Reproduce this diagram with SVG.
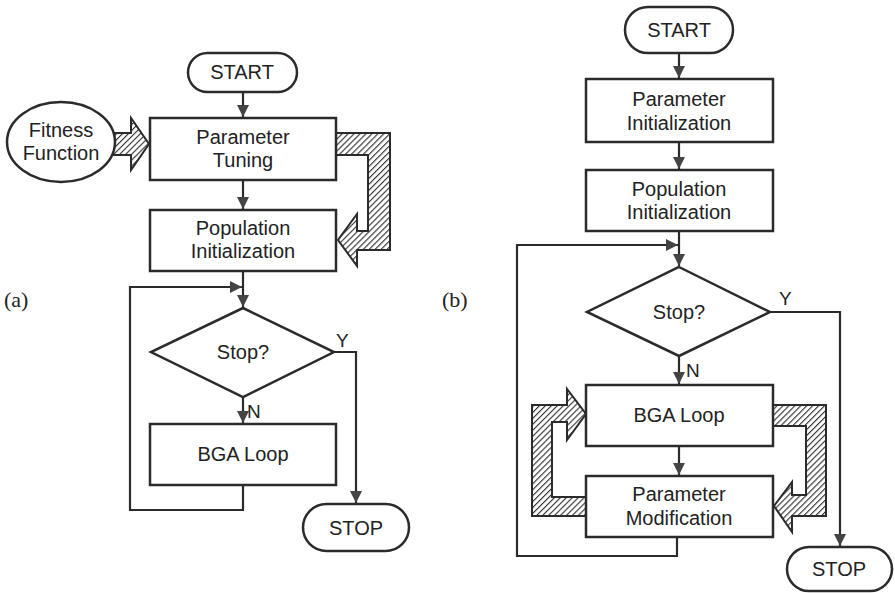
<svg xmlns="http://www.w3.org/2000/svg" width="895" height="593" viewBox="0 0 895 593">
  <defs>
    <style>
      .box { fill: #fff; stroke: #2b2b2b; stroke-width: 2.5; }
      .wire { fill: none; stroke: #2b2b2b; stroke-width: 2.2; }
      .hatch { fill: url(#diag); stroke: #2b2b2b; stroke-width: 2; stroke-linejoin: miter; }
      .t { font-family: "Liberation Sans", Arial, sans-serif; font-size: 20px; fill: #222; text-anchor: middle; }
      .lbl { font-family: "Liberation Sans", Arial, sans-serif; font-size: 19px; fill: #222; }
      .cap { font-family: "Liberation Serif", "DejaVu Serif", serif; font-size: 22px; fill: #222; }
    </style>
    <pattern id="diag" width="4.2" height="4.2" patternUnits="userSpaceOnUse" patternTransform="rotate(45)">
      <rect width="4.2" height="4.2" fill="#fff"/>
      <line x1="0" y1="0" x2="0" y2="4.2" stroke="#2e2e2e" stroke-width="2.2"/>
    </pattern>
    <marker id="ah" markerUnits="userSpaceOnUse" markerWidth="14" markerHeight="12" refX="12" refY="6" orient="auto">
      <path d="M0,0 L12,6 L0,12 Z" fill="#444"/>
    </marker>
  </defs>

  <!-- panel labels -->
  <text class="cap" x="4" y="307">(a)</text>
  <text class="cap" x="442" y="307">(b)</text>

  <!-- connectors -->
  <g id="connectors">
    <!-- flow (a) -->
    <path class="wire" d="M243,92 V117" marker-end="url(#ah)"/>
    <path class="wire" d="M243,180 V209" marker-end="url(#ah)"/>
    <path class="wire" d="M243,271 V307" marker-end="url(#ah)"/>
    <path class="wire" d="M243,485 V510 H130 V287 H242" marker-end="url(#ah)"/>
    <path class="wire" d="M243,397 V423" marker-end="url(#ah)"/>
    <path class="wire" d="M334,352 H356 V503" marker-end="url(#ah)"/>
    <!-- flow (b) -->
    <path class="wire" d="M679,53 V78" marker-end="url(#ah)"/>
    <path class="wire" d="M679,142 V169" marker-end="url(#ah)"/>
    <path class="wire" d="M679,231 V266" marker-end="url(#ah)"/>
    <path class="wire" d="M677,537 V556 H517 V245 H678" marker-end="url(#ah)"/>
    <path class="wire" d="M679,356 V384" marker-end="url(#ah)"/>
    <path class="wire" d="M679,446 V475" marker-end="url(#ah)"/>
    <path class="wire" d="M770,312 H840 V546" marker-end="url(#ah)"/>

    <!-- hatched feedback arrows -->
    <polygon class="hatch" points="108,133 131,133 131,118 149,144 131,170 131,155 108,155"/>
    <polygon class="hatch" points="336,133 390,133 390,250 357,250 357,266 338,240 357,214 357,231 368,231 368,155 336,155"/>
    <polygon class="hatch" points="586,497 552,497 552,422 567,422 567,440 586,414 567,389 567,405 532,405 532,516 586,516"/>
    <polygon class="hatch" points="773,405 826,405 826,516 792,516 792,532 774,506 792,482 792,495 806,495 806,426 773,426"/>

    <text class="lbl" x="336" y="347">Y</text>
    <text class="lbl" x="247" y="418">N</text>
    <text class="lbl" x="779" y="305">Y</text>
    <text class="lbl" x="686" y="377">N</text>
  </g>

  <!-- nodes (a) -->
  <g id="a-start">
    <rect class="box" x="188" y="53" width="109" height="39" rx="19.5"/>
    <text class="t" x="242" y="79">START</text>
  </g>
  <g id="a-fitness">
    <ellipse class="box" cx="61" cy="142" rx="54" ry="40"/>
    <text class="t" x="61" y="137">Fitness</text>
    <text class="t" x="61" y="160">Function</text>
  </g>
  <g id="a-tuning">
    <rect class="box" x="150" y="118" width="186" height="62"/>
    <text class="t" x="243" y="144">Parameter</text>
    <text class="t" x="243" y="167">Tuning</text>
  </g>
  <g id="a-popinit">
    <rect class="box" x="150" y="210" width="186" height="61"/>
    <text class="t" x="243" y="235">Population</text>
    <text class="t" x="243" y="258">Initialization</text>
  </g>
  <g id="a-stop">
    <polygon class="box" points="243,308 334,352 243,397 151,352"/>
    <text class="t" x="243" y="359">Stop?</text>
  </g>
  <g id="a-bga">
    <rect class="box" x="150" y="424" width="186" height="61"/>
    <text class="t" x="243" y="461">BGA Loop</text>
  </g>
  <g id="a-end">
    <rect class="box" x="303" y="504" width="106" height="47" rx="23.5"/>
    <text class="t" x="356" y="535">STOP</text>
  </g>

  <!-- nodes (b) -->
  <g id="b-start">
    <rect class="box" x="625" y="7" width="108" height="46" rx="23"/>
    <text class="t" x="679" y="37">START</text>
  </g>
  <g id="b-paraminit">
    <rect class="box" x="586" y="79" width="187" height="63"/>
    <text class="t" x="679" y="106">Parameter</text>
    <text class="t" x="679" y="130">Initialization</text>
  </g>
  <g id="b-popinit">
    <rect class="box" x="586" y="170" width="187" height="61"/>
    <text class="t" x="679" y="196">Population</text>
    <text class="t" x="679" y="219">Initialization</text>
  </g>
  <g id="b-stop">
    <polygon class="box" points="679,267 770,312 679,356 587,312"/>
    <text class="t" x="679" y="319">Stop?</text>
  </g>
  <g id="b-bga">
    <rect class="box" x="586" y="385" width="187" height="61"/>
    <text class="t" x="679" y="422">BGA Loop</text>
  </g>
  <g id="b-parammod">
    <rect class="box" x="586" y="476" width="187" height="61"/>
    <text class="t" x="679" y="501">Parameter</text>
    <text class="t" x="679" y="525">Modification</text>
  </g>
  <g id="b-end">
    <rect class="box" x="787" y="547" width="105" height="44" rx="22"/>
    <text class="t" x="839" y="576">STOP</text>
  </g>
</svg>
